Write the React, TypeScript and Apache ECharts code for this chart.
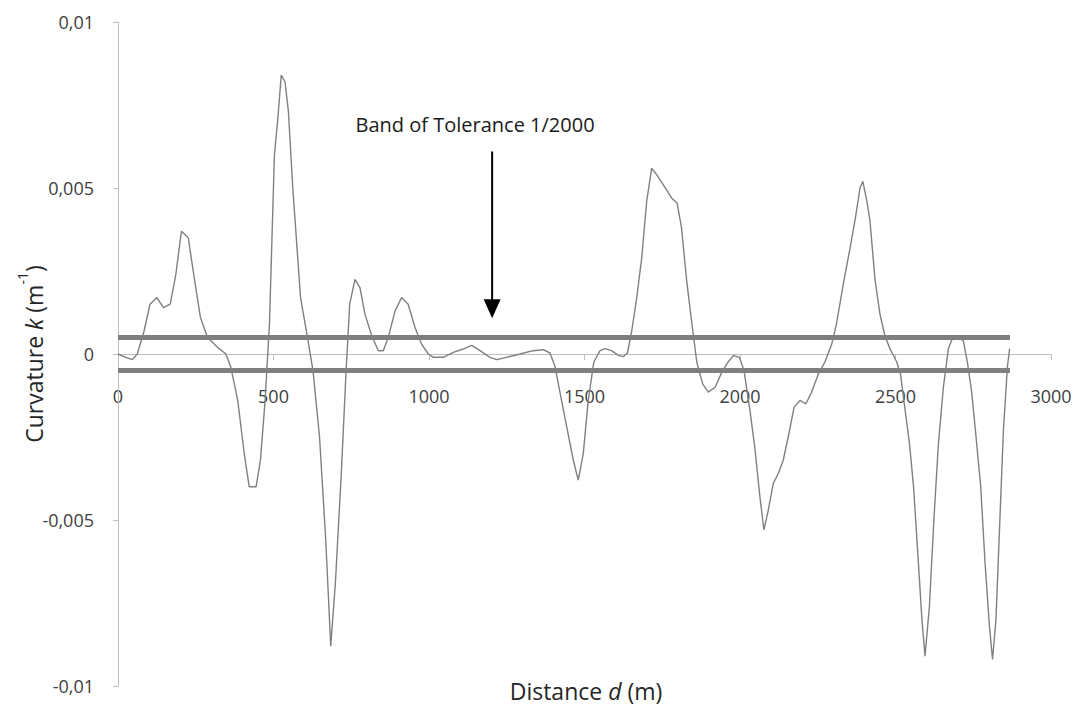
import React, { useEffect, useRef } from "react";
import * as echarts from "echarts";

const distance: number[] = [
  0, 25, 46, 62, 84, 103, 125, 146, 168, 186, 204, 226, 245, 265, 288, 320, 347, 363, 385, 406,
  422, 444, 458, 473, 487, 503, 514, 525, 537, 548, 562, 587, 611, 627, 648, 668, 684, 699, 718, 734,
  745, 762, 778, 794, 816, 837, 853, 869, 891, 912, 933, 955, 976, 998, 1014, 1046, 1078, 1110, 1137, 1164,
  1196, 1218, 1249, 1293, 1335, 1367, 1389, 1405, 1421, 1443, 1464, 1480, 1496, 1512, 1530, 1550, 1566, 1587, 1609, 1625,
  1638, 1652, 1668, 1684, 1700, 1716, 1732, 1753, 1780, 1798, 1812, 1828, 1845, 1861, 1880, 1898, 1920, 1941, 1962, 1979,
  1998, 2013, 2032, 2048, 2064, 2077, 2091, 2107, 2123, 2139, 2155, 2174, 2193, 2212, 2230, 2252, 2273, 2295, 2310, 2332,
  2354, 2371, 2386, 2395, 2408, 2418, 2434, 2450, 2466, 2482, 2504, 2516, 2531, 2545, 2558, 2571, 2585, 2595, 2609, 2624,
  2638, 2654, 2670, 2684, 2702, 2718, 2731, 2745, 2759, 2774, 2788, 2802, 2812, 2823, 2836, 2847, 2860, 2867,
];

const curvature: number[] = [
  0, -0.0001, -0.00017, 0, 0.0007, 0.0015, 0.0017, 0.0014, 0.0015, 0.0024, 0.0037, 0.0035, 0.0023, 0.0011, 0.0005, 0.0002, 0, -0.0004, -0.0014, -0.003,
  -0.004, -0.004, -0.0032, -0.0014, 0.0009, 0.006, 0.0071, 0.0084, 0.0082, 0.0073, 0.005, 0.0017, 0.0004, -0.0005, -0.0025, -0.0056, -0.0088, -0.0069, -0.0036, -0.0004,
  0.0015, 0.00225, 0.002, 0.0012, 0.00055, 0.0001, 0.0001, 0.0005, 0.0013, 0.0017, 0.0015, 0.0008, 0.0003, 0, -0.0001, -0.0001, 0.00005, 0.00015, 0.00026, 0.0001,
  -0.0001, -0.00017, -0.0001, 0, 0.0001, 0.00013, 0.00003, -0.00037, -0.00115, -0.0022, -0.0032, -0.0038, -0.003, -0.0014, -0.00024, 0.0001, 0.00016, 0.0001, -0.00004, -0.00008,
  0.00003, 0.0007, 0.0017, 0.0029, 0.0046, 0.0056, 0.0054, 0.0051, 0.0047, 0.00454, 0.0038, 0.00225, 0.00094, -0.00024, -0.0009, -0.00115, -0.001, -0.00056, -0.00024, -0.00004,
  -0.0001, -0.0005, -0.0017, -0.00285, -0.0043, -0.0053, -0.0047, -0.0039, -0.0036, -0.0032, -0.0025, -0.0016, -0.0014, -0.0015, -0.00115, -0.0006, -0.00024, 0.0003, 0.0009, 0.0021,
  0.0032, 0.0041, 0.005, 0.0052, 0.0046, 0.004, 0.00225, 0.0012, 0.00055, 0.00016, -0.00024, -0.0006, -0.0017, -0.0027, -0.004, -0.0059, -0.008, -0.0091, -0.0076, -0.0049,
  -0.0027, -0.001, 0.00016, 0.0005, 0.0005, 0.0004, -0.00024, -0.00115, -0.0025, -0.004, -0.0063, -0.0082, -0.0092, -0.008, -0.0049, -0.0023, -0.00037, 0.00016,
];

const bandDistance: number[] = [0, 2868];
const bandUpper: number[] = [0.0005, 0.0005];
const bandLower: number[] = [-0.0005, -0.0005];

const xTicks: number[] = [0, 500, 1000, 1500, 2000, 2500, 3000];
const xTickLabels: string[] = ["0", "500", "1000", "1500", "2000", "2500", "3000"];
const yTicks: number[] = [-0.01, -0.005, 0, 0.005, 0.01];
const yTickLabels: string[] = ["-0,01", "-0,005", "0", "0,005", "0,01"];

const annotationText = "Band of Tolerance 1/2000";
const annotationAnchor: [number, number] = [1148, 0.0069];
const arrowStart: [number, number] = [1203, 0.0061];
const arrowEnd: [number, number] = [1203, 0.00108];
const xLabelLevel = -0.00125;

const FONT = "'Open Sans', 'Noto Sans', sans-serif";

function lookup(ticks: number[], labels: string[], v: number): string {
  for (let i = 0; i < ticks.length; i++) {
    if (Math.abs(ticks[i] - v) < 1e-9) return labels[i];
  }
  return "";
}

export default function App() {
  const ref = useRef<HTMLDivElement>(null);

  useEffect(() => {
    document.body.style.margin = "0";
    if (!ref.current) return;
    const chart = echarts.init(ref.current, null, { renderer: "svg" });

    const curveData = distance.map((d, i) => [d, curvature[i]]);
    const upperData = bandDistance.map((d, i) => [d, bandUpper[i]]);
    const lowerData = bandDistance.map((d, i) => [d, bandLower[i]]);

    chart.setOption({
      animation: false,
      backgroundColor: "#ffffff",
      grid: { left: 118, right: 25, top: 22, bottom: 23, containLabel: false, outerBoundsMode: "none" },
      xAxis: {
        type: "value",
        min: 0,
        max: 3000,
        interval: 500,
        axisLine: { show: true, onZero: true, lineStyle: { color: "#bfbfbf", width: 1 } },
        axisTick: { show: true, length: 6, lineStyle: { color: "#bfbfbf" } },
        splitLine: { show: false },
        axisLabel: { show: false },
      },
      yAxis: {
        type: "value",
        min: -0.01,
        max: 0.01,
        interval: 0.005,
        axisLine: { show: true, onZero: false, lineStyle: { color: "#bfbfbf", width: 1 } },
        axisTick: { show: true, length: 5, lineStyle: { color: "#bfbfbf" } },
        splitLine: { show: false },
        axisLabel: {
          margin: 24,
          color: "#404040",
          fontSize: 18,
          fontFamily: FONT,
          formatter: (v: number) => lookup(yTicks, yTickLabels, v),
        },
      },
      series: [
        {
          type: "line",
          data: upperData,
          showSymbol: false,
          lineStyle: { color: "#7f7f7f", width: 5 },
          z: 2,
        },
        {
          type: "line",
          data: lowerData,
          showSymbol: false,
          lineStyle: { color: "#7f7f7f", width: 5 },
          z: 2,
        },
        {
          type: "line",
          data: curveData,
          showSymbol: false,
          lineStyle: { color: "#808080", width: 1.4 },
          z: 3,
        },
      ],
    });

    const px = (p: [number, number]) => chart.convertToPixel({ gridIndex: 0 }, p) as number[];
    const a = px(annotationAnchor);
    const s = px(arrowStart);
    const e = px(arrowEnd);
    const headH = 19;
    const headW = 17;

    const xLabelGraphics = xTicks.map((t, i) => {
      const p = px([t, xLabelLevel]);
      return {
        type: "text",
        x: p[0],
        y: p[1],
        style: {
          text: xTickLabels[i],
          fill: "#404040",
          font: `18px ${FONT}`,
          align: "center",
          verticalAlign: "middle",
        },
      };
    });

    chart.setOption({
      graphic: [
        ...xLabelGraphics,
        {
          type: "text",
          x: a[0],
          y: a[1],
          style: {
            text: annotationText,
            fill: "#1a1a1a",
            font: `20px ${FONT}`,
            align: "center",
            verticalAlign: "middle",
          },
        },
        {
          type: "line",
          shape: { x1: s[0], y1: s[1], x2: e[0], y2: e[1] - headH + 2 },
          style: { stroke: "#000000", lineWidth: 2 },
        },
        {
          type: "polygon",
          shape: {
            points: [
              [e[0] - headW / 2, e[1] - headH],
              [e[0] + headW / 2, e[1] - headH],
              [e[0], e[1]],
            ],
          },
          style: { fill: "#000000" },
        },
        {
          type: "text",
          x: 30,
          y: 354,
          rotation: Math.PI / 2,
          style: {
            text: "{a|Curvature }{i|k}{a| (m}{s|-1}{a|)}",
            align: "center",
            verticalAlign: "middle",
            fill: "#262626",
            rich: {
              a: { fontSize: 23, fontFamily: FONT, fill: "#262626", lineHeight: 30, verticalAlign: "bottom" },
              i: { fontSize: 23, fontFamily: FONT, fontStyle: "italic", fill: "#262626", lineHeight: 30, verticalAlign: "bottom" },
              s: { fontSize: 14, fontFamily: FONT, fill: "#262626", lineHeight: 16, verticalAlign: "top" },
            },
          },
        },
        {
          type: "text",
          x: 586,
          y: 691,
          style: {
            text: "{a|Distance }{i|d}{a| (m)}",
            align: "center",
            verticalAlign: "middle",
            fill: "#262626",
            rich: {
              a: { fontSize: 23, fontFamily: FONT, fill: "#262626" },
              i: { fontSize: 23, fontFamily: FONT, fontStyle: "italic", fill: "#262626" },
            },
          },
        },
      ],
    });

    return () => {
      chart.dispose();
    };
  }, []);

  return <div ref={ref} style={{ width: 1076, height: 709 }} />;
}
